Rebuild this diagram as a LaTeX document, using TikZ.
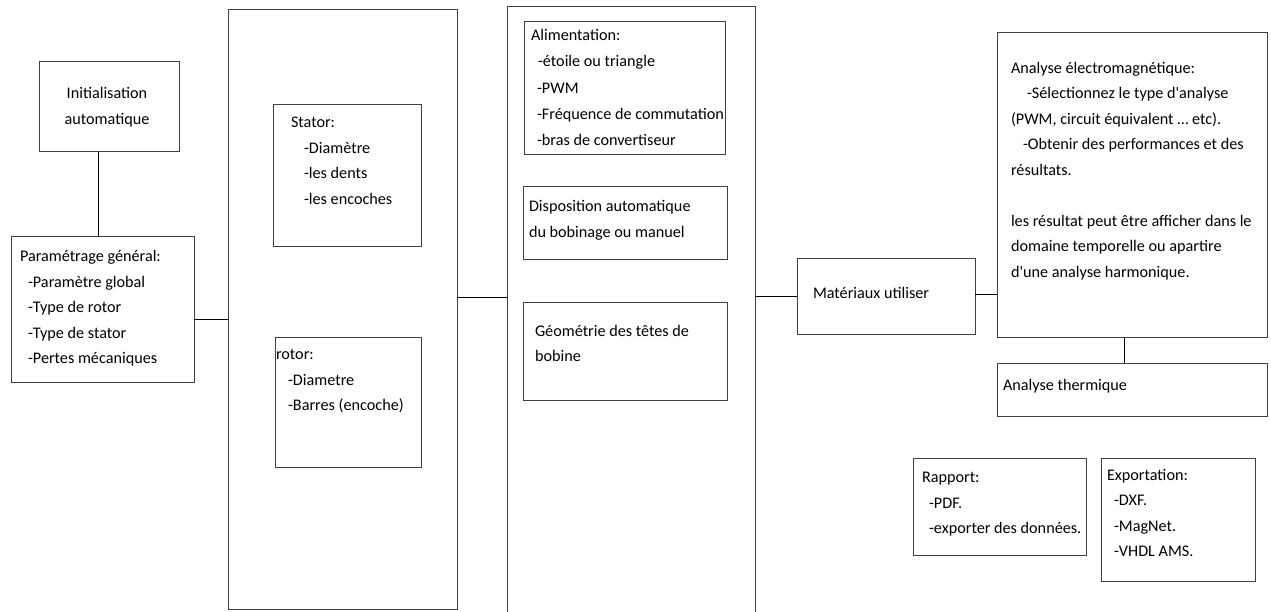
\documentclass[tikz,border=0pt]{standalone}
\usepackage{fontspec}
\setmainfont{Carlito}
\begin{document}
\begin{tikzpicture}[x=1pt,y=-1pt,
  box/.style={draw=black!75, line width=1pt, inner sep=0pt, outer sep=0pt, anchor=north west},
  txt/.style={inner sep=0pt, outer sep=0pt, anchor=base west, align=left, font=\fontsize{16.2}{25.5}\selectfont},
  link/.style={draw=black, line width=1pt}]
\useasboundingbox[fill=white] (0,0) rectangle (1271,612);

% boxes
\node[box, minimum width=140pt, minimum height=90pt] (init) at (39,62) {};
\node[box, minimum width=183pt, minimum height=145pt] (param) at (11,237) {};
\node[box, minimum width=229pt, minimum height=599pt] (big1) at (228,10) {};
\node[box, minimum width=148pt, minimum height=142pt] (stator) at (273,105) {};
\node[box, minimum width=146pt, minimum height=130pt] (rotor) at (275,337) {};
\node[box, minimum width=248pt, minimum height=615pt] (big2) at (507,7) {};
\node[box, minimum width=201pt, minimum height=133pt] (alim) at (524,22) {};
\node[box, minimum width=204pt, minimum height=73pt] (dispo) at (523,187) {};
\node[box, minimum width=204pt, minimum height=98pt] (geom) at (523,302) {};
\node[box, minimum width=178pt, minimum height=75pt] (mat) at (797,259) {};
\node[box, minimum width=270pt, minimum height=304pt] (em) at (997,33) {};
\node[box, minimum width=270pt, minimum height=53pt] (therm) at (997,363) {};
\node[box, minimum width=173pt, minimum height=97pt] (rapport) at (913,458) {};
\node[box, minimum width=154pt, minimum height=123pt] (export) at (1101,458) {};

% texts (anchor = baseline of the last line)
\node[txt, anchor=base, align=center] (tinit) at (107,124.5) {Initialisation\\automatique};
\node[txt] (tparam) at (20,363.5) {Paramétrage général:\\\hspace*{8pt}-Paramètre global\\\hspace*{8pt}-Type de rotor\\\hspace*{8pt}-Type de stator\\\hspace*{8pt}-Pertes mécaniques};
\node[txt] (tstator) at (291,204.5) {Stator:\\\hspace*{13pt}-Diamètre\\\hspace*{13pt}-les dents\\\hspace*{13pt}-les encoches};
\node[txt] (trotor) at (276,410.5) {rotor:\\\hspace*{12pt}-Diametre\\\hspace*{12pt}-Barres (encoche)};
\node[txt, font=\fontsize{16.2}{26.2}\selectfont] (talim) at (531,145.5) {Alimentation:\\\hspace*{7pt}-étoile ou triangle\\\hspace*{6pt}-PWM\\\hspace*{6pt}-Fréquence de commutation\\\hspace*{6pt}-bras de convertiseur};
\node[txt] (tdispo) at (529,237.5) {Disposition automatique\\du bobinage ou manuel};
\node[txt] (tgeom) at (535,361.5) {Géométrie des têtes de\\bobine};
\node[txt] (tmat) at (813,298.5) {Matériaux utiliser};
\node[txt] (tem) at (1011,277.5) {Analyse électromagnétique:\\\hspace*{16pt}-Sélectionnez le type d\textquotesingle analyse\\(PWM, circuit équivalent \dots\ etc).\\\hspace*{12pt}-Obtenir des performances et des\\résultats.\\[25.5pt]les résultat peut être afficher dans le\\domaine temporelle ou apartire\\d\textquotesingle une analyse harmonique.};
\node[txt] (ttherm) at (1003,390.5) {Analyse thermique};
\node[txt] (trapport) at (922,533.5) {Rapport:\\\hspace*{7pt}-PDF.\\\hspace*{7pt}-exporter des données.};
\node[txt] (texport) at (1107,556.5) {Exportation:\\\hspace*{7pt}-DXF.\\\hspace*{7pt}-MagNet.\\\hspace*{7pt}-VHDL AMS.};

% connectors
\draw[link] ([xshift=-11pt]init.south) -- ([xshift=-11pt]init.south |- param.north);
\draw[link] ([yshift=-9.5pt]param.east) -- ([yshift=-9.5pt]param.east -| big1.west);
\draw[link] ([yshift=12pt]big1.east) -- ([yshift=12pt]big1.east -| big2.west);
\draw[link] (big2.east |- mat.west) -- (mat.west);
\draw[link] ([yshift=2.5pt]mat.east) -- ([yshift=2.5pt]mat.east -| em.west);
\draw[link] ([xshift=-8pt]em.south) -- ([xshift=-8pt]em.south |- therm.north);
\end{tikzpicture}
\end{document}
